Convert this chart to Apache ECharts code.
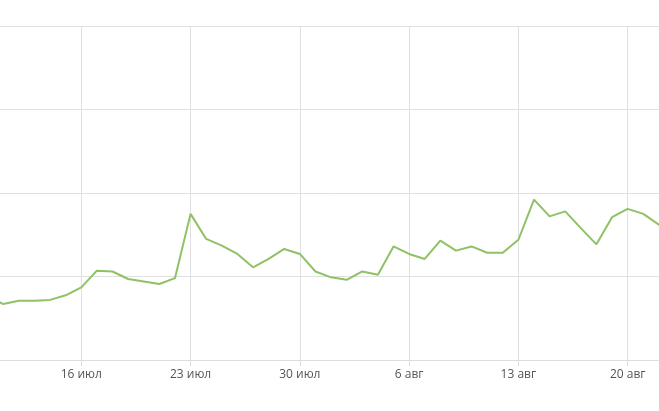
<!DOCTYPE html>
<html>
<head>
<meta charset="utf-8">
<script src="https://cdn.jsdelivr.net/npm/echarts@6/dist/echarts.min.js"></script>
<style>
html,body{margin:0;padding:0;background:#fff;}
#chart{width:659px;height:411px;}
</style>
</head>
<body>
<div id="chart"></div>
<script>
const categories = [
  "10 июл","11 июл","12 июл","13 июл","14 июл","15 июл","16 июл","17 июл","18 июл","19 июл",
  "20 июл","21 июл","22 июл","23 июл","24 июл","25 июл","26 июл","27 июл","28 июл","29 июл",
  "30 июл","31 июл","1 авг","2 авг","3 авг","4 авг","5 авг","6 авг","7 авг","8 авг",
  "9 авг","10 авг","11 авг","12 авг","13 авг","14 авг","15 авг","16 авг","17 авг","18 авг",
  "19 авг","20 авг","21 авг","22 авг","23 авг"
];
const values = [
  77, 67, 71, 71, 72, 77.5, 87, 107, 106, 97,
  94, 91, 98, 175, 145, 137, 127, 111, 121, 133,
  127, 106, 99, 96, 106, 102, 136, 127, 121, 143,
  131, 136, 128.5, 128.5, 144, 192, 172, 178, 158, 138.5,
  171, 181, 175, 162, 150
];
const yTicks = [0, 100, 200, 300, 400];
const firstMonday = 6;

const isMonday = (i) => (i - firstMonday) % 7 === 0 && i >= firstMonday;

const chart = echarts.init(document.getElementById('chart'));
chart.setOption({
  animation: false,
  grid: { left: -12.37, right: -15.5, top: 26, bottom: 51, outerBoundsMode: 'none', containLabel: false },
  xAxis: {
    type: 'category',
    data: categories,
    boundaryGap: false,
    axisLine: { show: true, lineStyle: { color: '#dddddd', width: 1 } },
    axisTick: { show: true, length: 6, interval: (i) => isMonday(i), lineStyle: { color: '#dddddd' } },
    axisLabel: {
      interval: (i) => isMonday(i),
      color: '#555555',
      fontFamily: 'Open Sans',
      fontSize: 12,
      margin: 9
    },
    splitLine: { show: true, interval: (i) => isMonday(i), lineStyle: { color: '#e0e0e0', width: 1 } }
  },
  yAxis: {
    type: 'value',
    min: yTicks[0],
    max: yTicks[yTicks.length - 1],
    interval: yTicks[1] - yTicks[0],
    axisLine: { show: false },
    axisTick: { show: false },
    axisLabel: { show: false },
    splitLine: { show: true, lineStyle: { color: '#e0e0e0', width: 1 } }
  },
  series: [{
    type: 'line',
    data: values,
    symbol: 'none',
    smooth: false,
    lineStyle: { color: '#8fc165', width: 2 },
    itemStyle: { color: '#8fc165' }
  }]
});
</script>
</body>
</html>
